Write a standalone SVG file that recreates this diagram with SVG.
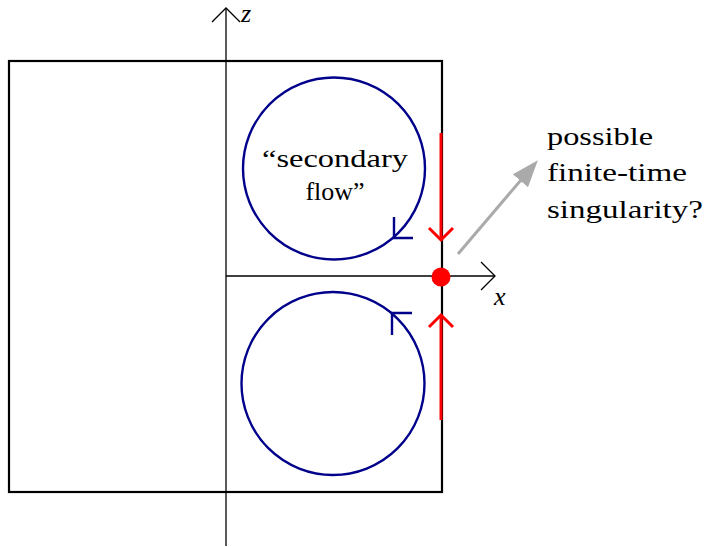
<svg xmlns="http://www.w3.org/2000/svg" width="704" height="547" viewBox="0 0 704 547">
<style>
.ax{stroke:#000;stroke-width:1.3;fill:none}
.box{stroke:#000;stroke-width:2.2;fill:none}
.flow{stroke:#00008b;stroke-width:2.4;fill:none}
.red{stroke:#ff0000;stroke-width:3;fill:none}
.t{font-family:"Liberation Serif","Times New Roman",Tinos,Times,serif;font-size:26px;fill:#000}
.it{font-style:italic}
</style>
<defs>
<marker id="gh" viewBox="0 0 27 20" refX="1" refY="10" markerWidth="27" markerHeight="20" orient="auto" markerUnits="userSpaceOnUse">
<path d="M0,0 L27,10 L0,20 Z" fill="#aaaaaa"/>
</marker>
</defs>
<g id="box"><rect class="box" x="9" y="61" width="433" height="431"/></g>
<g id="connectors">
<line class="ax" x1="226" y1="546" x2="226" y2="8"/>
<polyline class="ax" points="212,22 226,8 240,22"/>
<line class="ax" x1="226" y1="276" x2="495" y2="276"/>
<polyline class="ax" points="481,262 495,276 481,290"/>
<line class="red" x1="441" y1="133" x2="441" y2="240"/>
<polyline class="red" points="429,228 441,240 453,228"/>
<line class="red" x1="441" y1="315" x2="441" y2="420"/>
<polyline class="red" points="429,327 441,315 453,327"/>
<line x1="458" y1="254" x2="521" y2="180" stroke="#aaaaaa" stroke-width="3" marker-end="url(#gh)"/>
</g>
<g id="upper-flow">
<circle class="flow" cx="334" cy="168.5" r="91"/>
<polyline class="flow" points="394,217 394,238 413,238"/>
<text class="t" x="335" y="167" text-anchor="middle" textLength="146" lengthAdjust="spacingAndGlyphs">“secondary</text>
<text class="t" x="335" y="200" text-anchor="middle">flow”</text>
</g>
<g id="lower-flow">
<circle class="flow" cx="333" cy="383.5" r="91.5"/>
<polyline class="flow" points="392,335 392,313 412,313"/>
</g>
<g id="singularity"><circle cx="441" cy="277" r="9.5" fill="#ff0000"/></g>
<g id="labels">
<text class="t it" x="241" y="22">z</text>
<text class="t it" x="494" y="305">x</text>
<text class="t" x="547" y="145" textLength="106" lengthAdjust="spacingAndGlyphs">possible</text>
<text class="t" x="547" y="181" textLength="140" lengthAdjust="spacingAndGlyphs">finite-time</text>
<text class="t" x="547" y="218" textLength="156" lengthAdjust="spacingAndGlyphs">singularity?</text>
</g>
</svg>
